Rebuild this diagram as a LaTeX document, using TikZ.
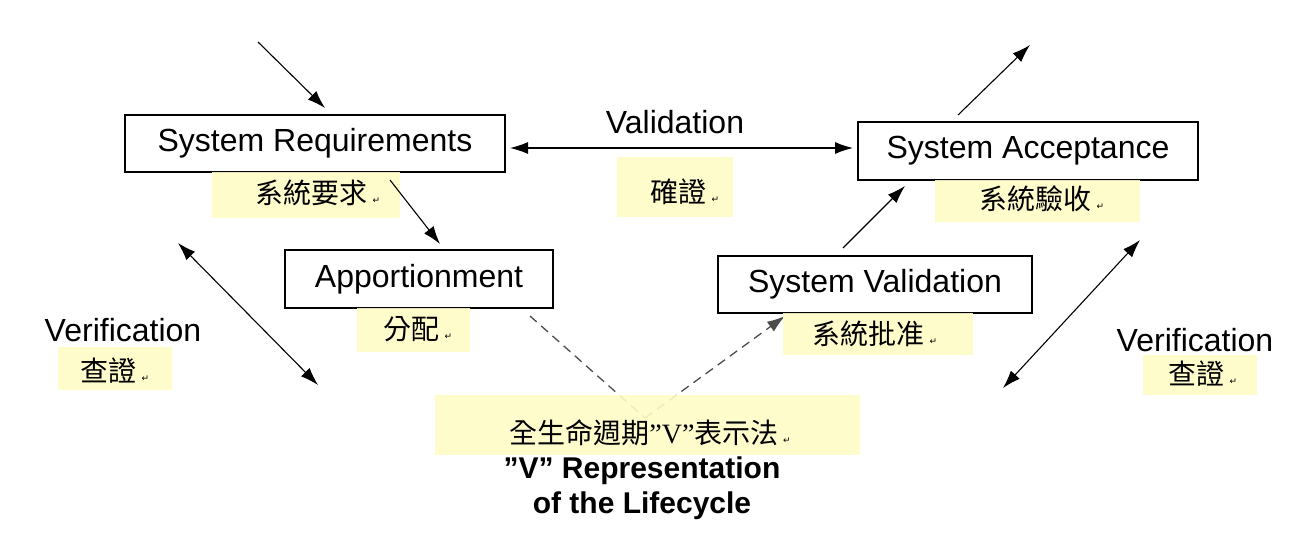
\documentclass[tikz,border=0pt]{standalone}
\usepackage{fontspec}
\setmainfont{Liberation Sans}
\newfontfamily\cjk{Noto Sans CJK TC}
\newfontfamily\dv{DejaVu Sans}
\newfontfamily\ser{Liberation Serif}
\usetikzlibrary{arrows.meta}
\newcommand{\parmark}{\,{\dv\fontsize{9}{9}\selectfont ↵}}
\begin{document}
\begin{tikzpicture}[x=1pt,y=-1pt,
  box/.style={draw,line width=1.3pt,inner sep=0pt,font=\fontsize{32}{36}\selectfont},
  hl/.style={fill=yellow!22!white,fill opacity=0.9,draw=none},
  zh/.style={font=\cjk\fontsize{28}{30}\selectfont,anchor=center},
  lbl/.style={font=\fontsize{32}{36}\selectfont},
  ar/.style={line width=1.1pt,-{Latex[length=18pt,width=12pt]}},
  dar/.style={line width=1.1pt,{Latex[length=18pt,width=12pt]}-{Latex[length=18pt,width=12pt]}},
  dsh/.style={line width=1.3pt,gray!60!black,dash pattern=on 9pt off 6pt}]
\useasboundingbox (0,0) rectangle (1299,549);
\coordinate (tip) at (645,418);
\coordinate (in0) at (258,42);
\coordinate (out0) at (1030,45);
\coordinate (lv1) at (178,243);
\coordinate (lv2) at (318,385);
\coordinate (rv1) at (1140,240);
\coordinate (rv2) at (1003,388);
\coordinate (va1) at (510,148);
\coordinate (va2) at (853,148);
\node[box,minimum width=380,minimum height=57] (sr) at (315,143.5) {System Requirements};
\node[box,minimum width=268,minimum height=58] (ap) at (419,279) {Apportionment};
\node[box,minimum width=314,minimum height=57] (sv) at (875,284.5) {System Validation};
\node[box,minimum width=340,minimum height=58] (sa) at (1028,151) {System Acceptance};
\draw[dsh] (530,316) -- (tip);
\draw[dsh,-{Latex[length=18pt,width=12pt]}] (tip) -- (785,316);
\fill[hl] (212,172) rectangle (400,218);
\fill[hl] (357,308) rectangle (470,352);
\fill[hl] (783,313) rectangle (973,355);
\fill[hl] (935,180) rectangle (1140,222);
\fill[hl] (617,157) rectangle (733,217);
\fill[hl] (58,347) rectangle (172,390);
\fill[hl] (1143,355) rectangle (1257,395);
\fill[hl] (435,395) rectangle (860,455);
\node[zh] (z1) at (318,193) {系統要求\parmark};
\node[zh] (z2) at (418,329) {分配\parmark};
\node[zh] (z3) at (875,334) {系統批准\parmark};
\node[zh] (z4) at (1042,199) {系統驗收\parmark};
\node[zh] (z5) at (685,192) {確證\parmark};
\node[zh] (z6) at (115,371) {查證\parmark};
\node[zh] (z7) at (1203,374) {查證\parmark};
\node[font=\cjk\fontsize{28}{30}\selectfont] (z8) at (650,433) {全生命週期{\ser ”V”}表示法\parmark};
\node[lbl] (val) at (675,122) {Validation};
\node[lbl] (vl) at (123,330) {Verification};
\node[lbl] (vr) at (1195,340) {Verification};
\node[font=\bfseries\fontsize{30}{35}\selectfont,align=center] (tt) at (642,488) {\symbol{34}V\symbol{34} Representation\\of the Lifecycle};
\draw[ar] (in0) -- (325,108);
\draw[ar] (390,180) -- (440,244);
\draw[dar] (va1) -- (va2);
\draw[dar] (lv1) -- (lv2);
\draw[ar] (843,248) -- (905,186);
\draw[ar] (958,115) -- (out0);
\draw[dar] (rv1) -- (rv2);
\end{tikzpicture}
\end{document}
